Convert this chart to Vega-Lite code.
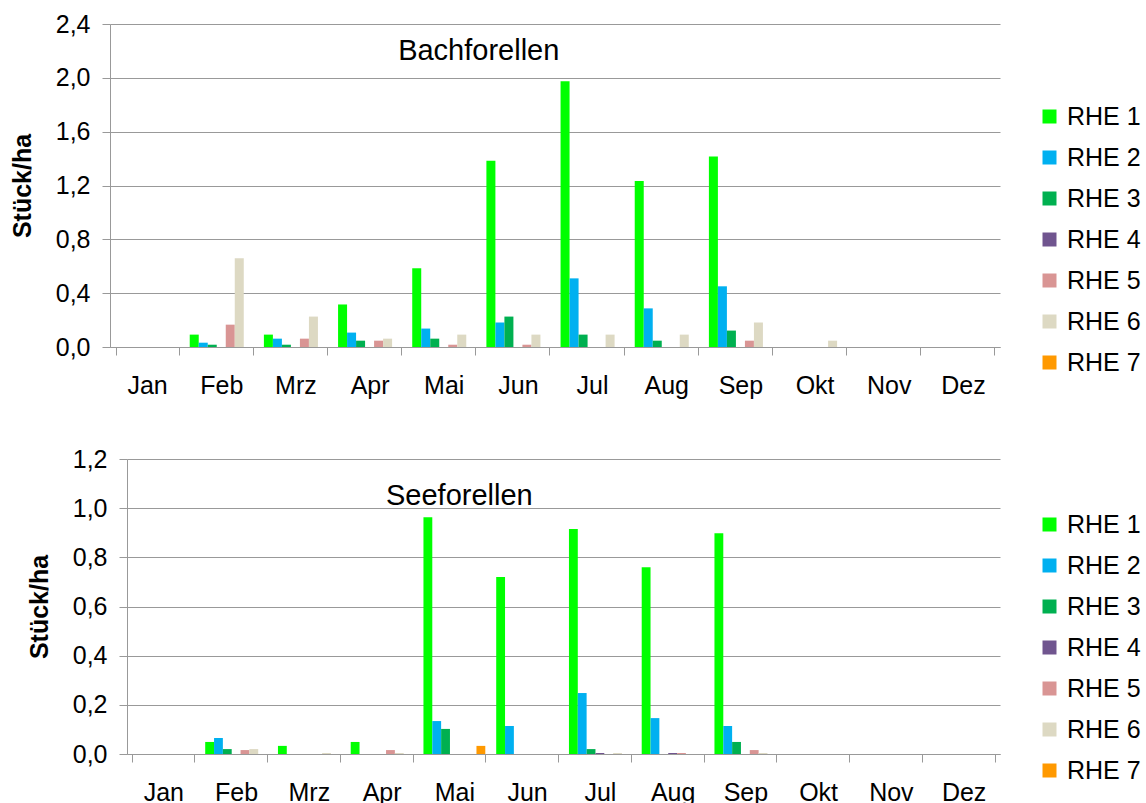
{
  "$schema": "https://vega.github.io/schema/vega-lite/v6.json",
  "padding": {"left": 10, "top": 12, "right": 0, "bottom": 0},
  "background": "white",
  "config": {
    "font": "Liberation Sans",
    "view": {"stroke": null},
    "axis": {
      "labelFont": "Liberation Sans", "labelFontSize": 25, "labelColor": "#000000",
      "domainColor": "#999999", "tickColor": "#999999", "gridColor": "#999999",
      "tickSize": 8, "titleFont": "Liberation Sans", "titleFontSize": 25,
      "titleColor": "#000000", "titleFontWeight": "bold"
    },
    "legend": {
      "labelFont": "Liberation Sans", "labelFontSize": 25, "labelColor": "#000000",
      "symbolType": "square", "symbolSize": 196, "symbolStrokeWidth": 0,
      "rowPadding": 15, "labelOffset": 5, "padding": 0
    }
  },
  "datasets": {
    "bach": [
      {"Monat": "Feb", "Serie": "RHE 1", "Wert": 0.092},
      {"Monat": "Feb", "Serie": "RHE 2", "Wert": 0.032},
      {"Monat": "Feb", "Serie": "RHE 3", "Wert": 0.017},
      {"Monat": "Feb", "Serie": "RHE 5", "Wert": 0.166},
      {"Monat": "Feb", "Serie": "RHE 6", "Wert": 0.66},
      {"Monat": "Mrz", "Serie": "RHE 1", "Wert": 0.092},
      {"Monat": "Mrz", "Serie": "RHE 2", "Wert": 0.062},
      {"Monat": "Mrz", "Serie": "RHE 3", "Wert": 0.017},
      {"Monat": "Mrz", "Serie": "RHE 5", "Wert": 0.062},
      {"Monat": "Mrz", "Serie": "RHE 6", "Wert": 0.226},
      {"Monat": "Apr", "Serie": "RHE 1", "Wert": 0.316},
      {"Monat": "Apr", "Serie": "RHE 2", "Wert": 0.107},
      {"Monat": "Apr", "Serie": "RHE 3", "Wert": 0.047},
      {"Monat": "Apr", "Serie": "RHE 5", "Wert": 0.047},
      {"Monat": "Apr", "Serie": "RHE 6", "Wert": 0.062},
      {"Monat": "Mai", "Serie": "RHE 1", "Wert": 0.585},
      {"Monat": "Mai", "Serie": "RHE 2", "Wert": 0.137},
      {"Monat": "Mai", "Serie": "RHE 3", "Wert": 0.062},
      {"Monat": "Mai", "Serie": "RHE 5", "Wert": 0.017},
      {"Monat": "Mai", "Serie": "RHE 6", "Wert": 0.092},
      {"Monat": "Jun", "Serie": "RHE 1", "Wert": 1.383},
      {"Monat": "Jun", "Serie": "RHE 2", "Wert": 0.182},
      {"Monat": "Jun", "Serie": "RHE 3", "Wert": 0.226},
      {"Monat": "Jun", "Serie": "RHE 5", "Wert": 0.017},
      {"Monat": "Jun", "Serie": "RHE 6", "Wert": 0.092},
      {"Monat": "Jul", "Serie": "RHE 1", "Wert": 1.975},
      {"Monat": "Jul", "Serie": "RHE 2", "Wert": 0.51},
      {"Monat": "Jul", "Serie": "RHE 3", "Wert": 0.092},
      {"Monat": "Jul", "Serie": "RHE 6", "Wert": 0.092},
      {"Monat": "Aug", "Serie": "RHE 1", "Wert": 1.233},
      {"Monat": "Aug", "Serie": "RHE 2", "Wert": 0.287},
      {"Monat": "Aug", "Serie": "RHE 3", "Wert": 0.047},
      {"Monat": "Aug", "Serie": "RHE 6", "Wert": 0.092},
      {"Monat": "Sep", "Serie": "RHE 1", "Wert": 1.415},
      {"Monat": "Sep", "Serie": "RHE 2", "Wert": 0.451},
      {"Monat": "Sep", "Serie": "RHE 3", "Wert": 0.122},
      {"Monat": "Sep", "Serie": "RHE 5", "Wert": 0.047},
      {"Monat": "Sep", "Serie": "RHE 6", "Wert": 0.182},
      {"Monat": "Okt", "Serie": "RHE 6", "Wert": 0.047}
    ],
    "see": [
      {"Monat": "Feb", "Serie": "RHE 1", "Wert": 0.049},
      {"Monat": "Feb", "Serie": "RHE 2", "Wert": 0.065},
      {"Monat": "Feb", "Serie": "RHE 3", "Wert": 0.02},
      {"Monat": "Feb", "Serie": "RHE 5", "Wert": 0.016},
      {"Monat": "Feb", "Serie": "RHE 6", "Wert": 0.02},
      {"Monat": "Mrz", "Serie": "RHE 1", "Wert": 0.033},
      {"Monat": "Mrz", "Serie": "RHE 6", "Wert": 0.004},
      {"Monat": "Apr", "Serie": "RHE 1", "Wert": 0.049},
      {"Monat": "Apr", "Serie": "RHE 5", "Wert": 0.016},
      {"Monat": "Apr", "Serie": "RHE 6", "Wert": 0.004},
      {"Monat": "Mai", "Serie": "RHE 1", "Wert": 0.963},
      {"Monat": "Mai", "Serie": "RHE 2", "Wert": 0.134},
      {"Monat": "Mai", "Serie": "RHE 3", "Wert": 0.102},
      {"Monat": "Mai", "Serie": "RHE 7", "Wert": 0.033},
      {"Monat": "Jun", "Serie": "RHE 1", "Wert": 0.72},
      {"Monat": "Jun", "Serie": "RHE 2", "Wert": 0.114},
      {"Monat": "Jul", "Serie": "RHE 1", "Wert": 0.915},
      {"Monat": "Jul", "Serie": "RHE 2", "Wert": 0.248},
      {"Monat": "Jul", "Serie": "RHE 3", "Wert": 0.02},
      {"Monat": "Jul", "Serie": "RHE 4", "Wert": 0.004},
      {"Monat": "Jul", "Serie": "RHE 6", "Wert": 0.004},
      {"Monat": "Aug", "Serie": "RHE 1", "Wert": 0.76},
      {"Monat": "Aug", "Serie": "RHE 2", "Wert": 0.146},
      {"Monat": "Aug", "Serie": "RHE 4", "Wert": 0.004},
      {"Monat": "Aug", "Serie": "RHE 5", "Wert": 0.004},
      {"Monat": "Sep", "Serie": "RHE 1", "Wert": 0.898},
      {"Monat": "Sep", "Serie": "RHE 2", "Wert": 0.114},
      {"Monat": "Sep", "Serie": "RHE 3", "Wert": 0.049},
      {"Monat": "Sep", "Serie": "RHE 5", "Wert": 0.016},
      {"Monat": "Sep", "Serie": "RHE 6", "Wert": 0.004}
    ]
  },
  "spacing": 49,
  "resolve": {
    "scale": {"x": "independent", "y": "independent", "xOffset": "independent", "color": "independent"},
    "axis": {"x": "independent", "y": "independent"},
    "legend": {"color": "independent"}
  },
  "vconcat": [
    {
      "width": 890,
      "height": 323,
      "layer": [
        {
          "data": {"name": "bach"},
          "mark": {"type": "bar"},
          "encoding": {
            "x": {
              "field": "Monat", "type": "nominal",
              "scale": {"domain": ["Jan","Feb","Mrz","Apr","Mai","Jun","Jul","Aug","Sep","Okt","Nov","Dez"], "paddingInner": 0.15, "paddingOuter": 0.075},
              "axis": {"title": null, "labelAngle": 0, "tickBand": "extent", "labelPadding": 18, "grid": false}
            },
            "xOffset": {
              "field": "Serie", "type": "nominal",
              "scale": {"domain": ["RHE 1","RHE 2","RHE 3","RHE 4","RHE 5","RHE 6","RHE 7"], "paddingInner": 0, "paddingOuter": 0}
            },
            "y": {
              "field": "Wert", "type": "quantitative",
              "scale": {"domain": [0, 2.4], "nice": false},
              "axis": {"title": "Stück/ha", "values": [0, 0.4, 0.8, 1.2, 1.6, 2.0, 2.4], "labelExpr": "replace(format(datum.value, '.1f'), '.', ',')", "labelPadding": 12, "titlePadding": 20, "grid": true}
            },
            "color": {
              "field": "Serie", "type": "nominal",
              "scale": {"domain": ["RHE 1","RHE 2","RHE 3","RHE 4","RHE 5","RHE 6","RHE 7"], "range": ["#00FF00","#00B0F0","#00B050","#70558F","#D99594","#DDD9C3","#FF9900"]},
              "legend": {"title": null, "orient": "none", "legendX": 927, "legendY": 80}
            }
          }
        },
        {
          "data": {"values": [{"Titel": "Bachforellen"}]},
          "mark": {"type": "text", "fontSize": 29, "baseline": "middle", "align": "center", "dx": 35, "color": "#000000"},
          "encoding": {
            "x": {"datum": "Mai", "bandPosition": 0.5},
            "y": {"datum": 2.2},
            "text": {"field": "Titel"}
          }
        }
      ]
    },
    {
      "width": 890,
      "height": 295,
      "layer": [
        {
          "data": {"name": "see"},
          "mark": {"type": "bar"},
          "encoding": {
            "x": {
              "field": "Monat", "type": "nominal",
              "scale": {"domain": ["Jan","Feb","Mrz","Apr","Mai","Jun","Jul","Aug","Sep","Okt","Nov","Dez"], "paddingInner": 0.15, "paddingOuter": 0.075, "range": [17, 890]},
              "axis": {"title": null, "labelAngle": 0, "tickBand": "extent", "labelPadding": 18, "grid": false}
            },
            "xOffset": {
              "field": "Serie", "type": "nominal",
              "scale": {"domain": ["RHE 1","RHE 2","RHE 3","RHE 4","RHE 5","RHE 6","RHE 7"], "paddingInner": 0, "paddingOuter": 0}
            },
            "y": {
              "field": "Wert", "type": "quantitative",
              "scale": {"domain": [0, 1.2], "nice": false},
              "axis": {"title": "Stück/ha", "offset": -17, "values": [0, 0.2, 0.4, 0.6, 0.8, 1.0, 1.2], "labelExpr": "replace(format(datum.value, '.1f'), '.', ',')", "labelPadding": 12, "titlePadding": 20, "grid": true}
            },
            "color": {
              "field": "Serie", "type": "nominal",
              "scale": {"domain": ["RHE 1","RHE 2","RHE 3","RHE 4","RHE 5","RHE 6","RHE 7"], "range": ["#00FF00","#00B0F0","#00B050","#70558F","#D99594","#DDD9C3","#FF9900"]},
              "legend": {"title": null, "orient": "none", "legendX": 927, "legendY": 53}
            }
          }
        },
        {
          "data": {"values": [{"Titel": "Seeforellen"}]},
          "mark": {"type": "text", "fontSize": 29, "baseline": "middle", "align": "center", "dx": 5, "color": "#000000"},
          "encoding": {
            "x": {"datum": "Mai", "bandPosition": 0.5},
            "y": {"datum": 1.05},
            "text": {"field": "Titel"}
          }
        }
      ]
    }
  ]
}
